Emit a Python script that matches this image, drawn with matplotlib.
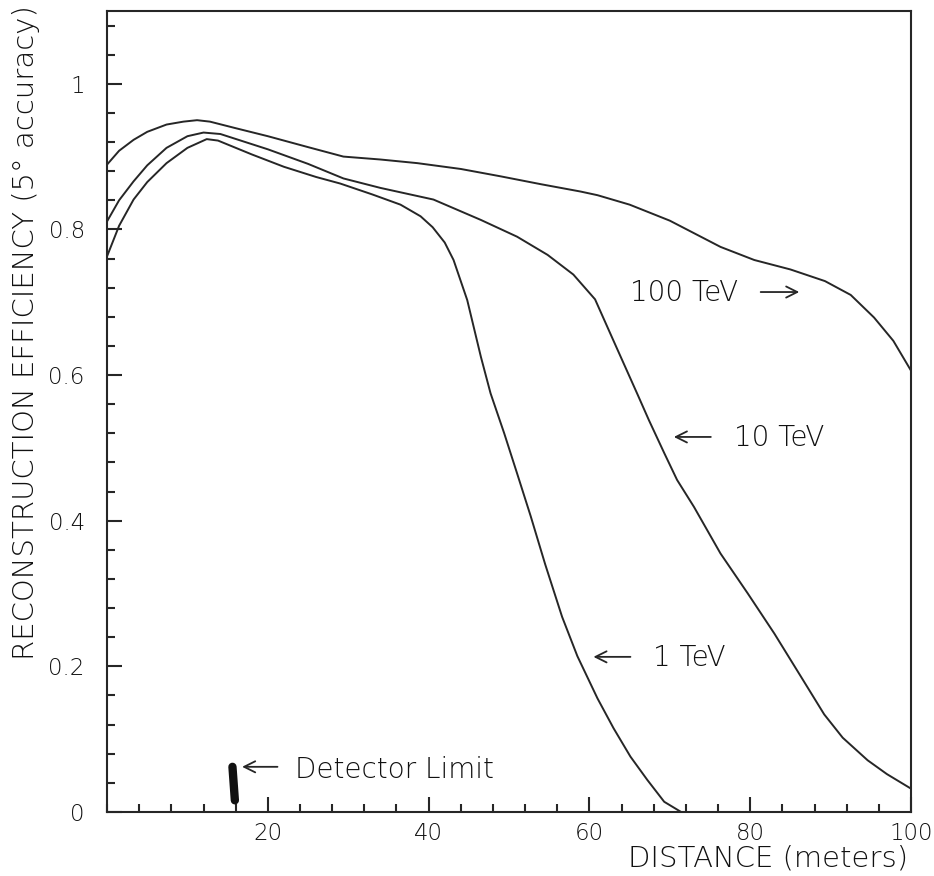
import matplotlib.pyplot as plt
from matplotlib.ticker import MultipleLocator, FixedLocator, FuncFormatter

# distance (m) and reconstruction efficiency
dist_100 = [0, 1.5, 3.3, 5, 7.4, 9.5, 11.2, 12.8, 16, 20, 25, 29.4, 34, 38.6, 44,
            48.9, 54, 58.9, 61, 65, 70, 76.3, 80.5, 85, 89.3, 92.5, 95.4, 97.8, 100]
eff_100 = [0.889, 0.908, 0.923, 0.934, 0.944, 0.948, 0.950, 0.948, 0.939, 0.928,
           0.913, 0.900, 0.896, 0.891, 0.883, 0.873, 0.862, 0.852, 0.847, 0.834,
           0.812, 0.776, 0.758, 0.745, 0.729, 0.710, 0.679, 0.647, 0.606]

dist_10 = [0, 1.5, 3.3, 5, 7.4, 10, 12, 14.1, 20, 25, 29.4, 34, 40.6, 46.5, 51,
           54.8, 58, 60.7, 63, 66, 67.4, 69.3, 70.9, 73, 76.3, 79.7, 83, 86.3,
           89.2, 91.5, 94.6, 97, 100]
eff_10 = [0.811, 0.840, 0.866, 0.888, 0.912, 0.928, 0.933, 0.931, 0.910, 0.890,
          0.870, 0.857, 0.841, 0.813, 0.790, 0.765, 0.738, 0.704, 0.647, 0.573,
          0.538, 0.493, 0.456, 0.419, 0.355, 0.300, 0.245, 0.186, 0.134, 0.102,
          0.071, 0.052, 0.032]

dist_1 = [0, 1.5, 3.3, 5, 7.4, 10, 12.4, 13.8, 18, 22, 26, 29, 33, 36.5, 39,
          40.5, 42, 43.1, 44.8, 46.5, 47.7, 49.4, 51, 52.7, 54.5, 56.6, 58.5, 61,
          63, 65.1, 67.2, 69.3, 71.4]
eff_1 = [0.763, 0.805, 0.841, 0.865, 0.891, 0.912, 0.924, 0.922, 0.903, 0.886,
         0.872, 0.863, 0.848, 0.834, 0.818, 0.803, 0.782, 0.758, 0.703, 0.625,
         0.575, 0.520, 0.465, 0.406, 0.340, 0.268, 0.214, 0.156, 0.115, 0.076,
         0.044, 0.014, 0.0]

# detector limit marker
det_x = [15.6, 15.9]
det_y = [0.062, 0.016]

ink = '#262626'
txt = '#111111'
plt.rcParams['font.family'] = ['DejaVu Sans']
plt.rcParams['font.weight'] = 'light'
plt.rcParams['axes.labelweight'] = 'light'

fig = plt.figure(figsize=(9.34, 8.76), dpi=100)
ax = fig.add_axes([0.1146, 0.0731, 0.8608, 0.9144])

ax.plot(dist_100, eff_100, color=ink, lw=1.4)
ax.plot(dist_10, eff_10, color=ink, lw=1.4)
ax.plot(dist_1, eff_1, color=ink, lw=1.4)
ax.plot(det_x, det_y, color='#111111', lw=6, solid_capstyle='round')

ax.set_xlim(0, 100)
ax.set_ylim(0, 1.1)
ax.xaxis.set_major_locator(FixedLocator([20, 40, 60, 80, 100]))
ax.xaxis.set_minor_locator(MultipleLocator(4))
ax.yaxis.set_major_locator(MultipleLocator(0.2))
ax.yaxis.set_minor_locator(MultipleLocator(0.04))
ax.yaxis.set_major_formatter(FuncFormatter(lambda v, p: '%g' % round(v, 2)))

ax.tick_params(which='both', direction='in', top=False, right=False,
               width=1.5, color=ink, labelcolor=txt, labelsize=16.5)
ax.tick_params(which='major', length=11)
ax.tick_params(which='minor', length=5.5)
ax.tick_params(axis='y', pad=16)
ax.tick_params(axis='x', pad=7)
for s in ax.spines.values():
    s.set_linewidth(1.5)
    s.set_color(ink)

ax.set_xlabel('DISTANCE (meters)', fontsize=21, color=txt, loc='right', fontweight='light')
ax.xaxis.set_label_coords(0.996, -0.040)
ax.set_ylabel('RECONSTRUCTION EFFICIENCY (5° accuracy)', fontsize=21, color=txt,
              loc='top', fontweight='light')
ax.yaxis.set_label_coords(-0.083, 1.0075)

arrow = dict(arrowstyle='->', lw=1.3, color=ink, mutation_scale=20, shrinkA=0, shrinkB=0)

# curve labels with arrows
ax.text(65.1, 0.701, '100 TeV', fontsize=20, color=txt, ha='left', va='baseline')
ax.annotate('', xy=(86.1, 0.714), xytext=(81.3, 0.714), arrowprops=arrow)

ax.text(78.0, 0.502, '10 TeV', fontsize=20, color=txt, ha='left', va='baseline')
ax.annotate('', xy=(70.5, 0.515), xytext=(75.1, 0.515), arrowprops=arrow)

ax.text(67.9, 0.200, '1 TeV', fontsize=20, color=txt, ha='left', va='baseline')
ax.annotate('', xy=(60.5, 0.213), xytext=(65.1, 0.213), arrowprops=arrow)

ax.text(23.4, 0.047, 'Detector Limit', fontsize=20, color=txt, ha='left', va='baseline')
ax.annotate('', xy=(16.8, 0.062), xytext=(21.2, 0.062), arrowprops=arrow)

fig.savefig('out.png', dpi=100)
